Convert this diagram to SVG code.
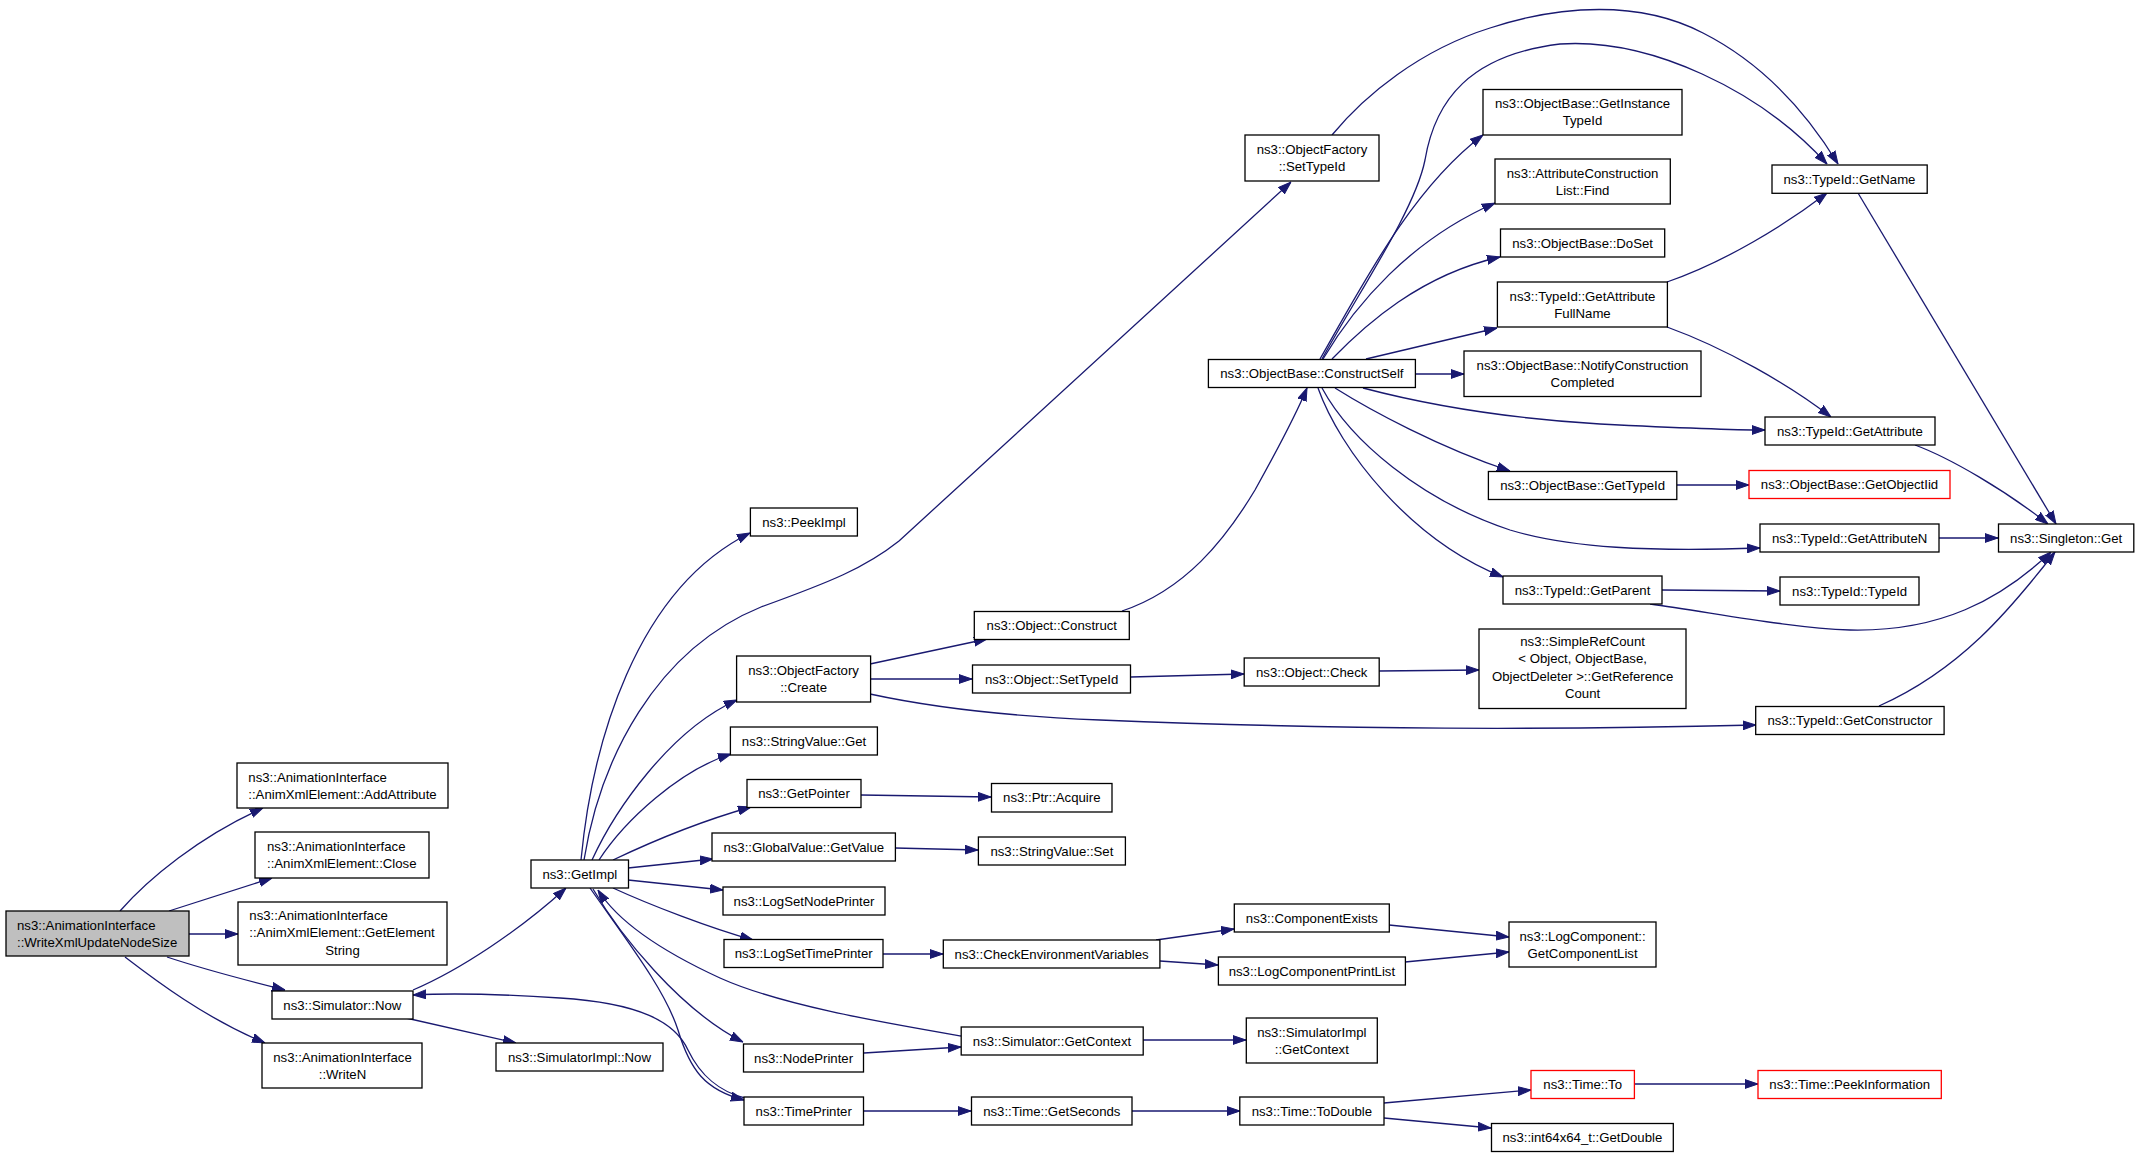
<svg xmlns="http://www.w3.org/2000/svg" width="2139" height="1158" viewBox="0 0 2139 1158">
<style>
.bg{fill:#fff}
.n{fill:#fff;stroke:#000;stroke-width:1.3}
.root{fill:#bfbfbf}
.red{stroke:#ff0000}
.t{font-family:"Liberation Sans",Arial,Helvetica,sans-serif;font-size:13.2px;fill:#000;text-anchor:middle}
.l{text-anchor:start}
.e{fill:none;stroke:#191970;stroke-width:1.3;marker-end:url(#ah)}
</style>
<defs>
<marker id="ah" markerUnits="userSpaceOnUse" markerWidth="13" markerHeight="10" viewBox="0 0 13 10" refX="13" refY="5" orient="auto">
<path d="M0,0.6 L13,5 L0,9.4 Z" fill="#191970" stroke="#191970" stroke-width="1"/>
</marker>
</defs>
<rect class="bg" x="0" y="0" width="2139" height="1158"/>
<g id="edges">
<path class="e" d="M120,911 C148,879 200,836 263,808"/>
<path class="e" d="M169,911 L272,878"/>
<path class="e" d="M189,934 L238,934"/>
<path class="e" d="M167,957 C200,968 245,980 285,990"/>
<path class="e" d="M125,957 C155,980 205,1018 265,1043"/>
<path class="e" d="M406,1018 L516,1043"/>
<path class="e" d="M413,990 C460,970 520,930 566,888"/>
<path class="e" d="M745,1098 C720,1092 700,1075 688,1050 C675,1022 640,1003 560,998 C500,994 450,993 413,995"/>
<path class="e" d="M581,860 C592,745 635,590 750,533"/>
<path class="e" d="M584,860 C600,760 655,650 761,607 C830,582 865,568 899,541 L1291,182"/>
<path class="e" d="M592,860 C615,810 670,730 737,700"/>
<path class="e" d="M599,860 C625,820 680,770 731,754"/>
<path class="e" d="M613,860 C655,840 705,820 751,807"/>
<path class="e" d="M628,868 L713,859"/>
<path class="e" d="M628,880 L723,890"/>
<path class="e" d="M613,888 C650,905 710,928 753,940"/>
<path class="e" d="M593,889 C620,935 680,1010 743,1042"/>
<path class="e" d="M961,1036 C880,1022 780,1005 720,978 C670,955 620,925 598,890"/>
<path class="e" d="M590,888 C630,945 665,990 678,1030 C690,1070 705,1090 744,1100"/>
<path class="e" d="M870,664 L987,639"/>
<path class="e" d="M870,679 L972,679"/>
<path class="e" d="M870,694 C930,707 1000,716 1100,720 C1350,730 1550,730 1756,725"/>
<path class="e" d="M1122,611 C1185,590 1225,540 1255,490 C1280,445 1298,410 1307,388"/>
<path class="e" d="M1131,677 L1244,674"/>
<path class="e" d="M1379,671 L1479,670"/>
<path class="e" d="M861,795 L991,797"/>
<path class="e" d="M895,848 L978,850"/>
<path class="e" d="M883,954 L943,954"/>
<path class="e" d="M864,1053 L961,1047"/>
<path class="e" d="M863,1111 L971,1111"/>
<path class="e" d="M1156,940 L1234,929"/>
<path class="e" d="M1160,961 L1218,965"/>
<path class="e" d="M1389,925 L1509,937"/>
<path class="e" d="M1405,962 L1509,952"/>
<path class="e" d="M1143,1040 L1246,1040"/>
<path class="e" d="M1132,1111 L1240,1111"/>
<path class="e" d="M1384,1103 L1531,1090"/>
<path class="e" d="M1384,1118 L1491,1128"/>
<path class="e" d="M1634,1084 L1758,1084"/>
<path class="e" d="M1332,135 C1365,95 1420,50 1490,28 C1560,5 1640,0 1703,33 C1760,62 1805,110 1838,164"/>
<path class="e" d="M1322,359 C1360,290 1415,210 1425,160 C1435,100 1470,55 1560,44 C1650,38 1760,90 1827,164"/>
<path class="e" d="M1320,359 C1360,290 1410,190 1483,135"/>
<path class="e" d="M1323,359 C1355,305 1410,240 1495,203"/>
<path class="e" d="M1332,359 C1365,325 1420,275 1500,257"/>
<path class="e" d="M1366,359 L1497,328"/>
<path class="e" d="M1415,374 L1464,374"/>
<path class="e" d="M1363,388 C1420,403 1500,418 1600,424 C1680,428 1720,430 1765,430"/>
<path class="e" d="M1335,388 C1370,410 1440,448 1510,471"/>
<path class="e" d="M1322,388 C1350,440 1420,500 1510,530 C1570,548 1650,552 1760,548"/>
<path class="e" d="M1318,388 C1340,450 1410,540 1503,577"/>
<path class="e" d="M1667,282 C1725,262 1785,225 1827,193"/>
<path class="e" d="M1667,327 C1725,348 1790,385 1831,417"/>
<path class="e" d="M1858,193 L2056,524"/>
<path class="e" d="M1915,445 C1950,458 2005,490 2048,524"/>
<path class="e" d="M1939,538 L1998,538"/>
<path class="e" d="M1662,590 L1780,591"/>
<path class="e" d="M1650,604 C1710,612 1790,628 1850,630 C1940,632 2000,600 2051,552"/>
<path class="e" d="M1879,706 C1960,670 2010,610 2055,552"/>
<path class="e" d="M1677,485 L1749,485"/>
</g>
<g id="n_root"><rect class="n root" x="6" y="911" width="183" height="45"/><text class="t l" x="17" y="929.5">ns3::AnimationInterface</text><text class="t l" x="17" y="946.5">::WriteXmlUpdateNodeSize</text></g>
<g id="n_addattribute"><rect class="n" x="237" y="763" width="211" height="45"/><text class="t l" x="248.3" y="781.5">ns3::AnimationInterface</text><text class="t l" x="248.3" y="798.5">::AnimXmlElement::AddAttribute</text></g>
<g id="n_close"><rect class="n" x="255" y="832" width="174" height="46"/><text class="t l" x="267" y="851">ns3::AnimationInterface</text><text class="t l" x="267" y="868">::AnimXmlElement::Close</text></g>
<g id="n_getelementstring"><rect class="n" x="238" y="902" width="209" height="63"/><text class="t l" x="249.3" y="919.5">ns3::AnimationInterface</text><text class="t l" x="249.3" y="936.5">::AnimXmlElement::GetElement</text><text class="t" x="342.5" y="954.5">String</text></g>
<g id="n_simnow"><rect class="n" x="272" y="991" width="141" height="28"/><text class="t" x="342.3" y="1009.5">ns3::Simulator::Now</text></g>
<g id="n_writen"><rect class="n" x="262" y="1043" width="160" height="45"/><text class="t" x="342.5" y="1061.5">ns3::AnimationInterface</text><text class="t" x="342.5" y="1078.5">::WriteN</text></g>
<g id="n_simimplnow"><rect class="n" x="496" y="1043" width="167" height="28"/><text class="t" x="579.5" y="1061.5">ns3::SimulatorImpl::Now</text></g>
<g id="n_getimpl"><rect class="n" x="531" y="860" width="97.5" height="28"/><text class="t" x="579.8" y="878.5">ns3::GetImpl</text></g>
<g id="n_peekimpl"><rect class="n" x="750.4" y="508" width="107" height="28"/><text class="t" x="804" y="526.5">ns3::PeekImpl</text></g>
<g id="n_ofcreate"><rect class="n" x="736.6" y="656" width="134" height="46"/><text class="t" x="803.6" y="675">ns3::ObjectFactory</text><text class="t" x="803.6" y="692">::Create</text></g>
<g id="n_strget"><rect class="n" x="730.4" y="727" width="147" height="28"/><text class="t" x="804" y="745.5">ns3::StringValue::Get</text></g>
<g id="n_getpointer"><rect class="n" x="747" y="779.5" width="114" height="28"/><text class="t" x="804" y="798">ns3::GetPointer</text></g>
<g id="n_globalvalue"><rect class="n" x="712" y="833" width="183.4" height="28"/><text class="t" x="803.8" y="851.5">ns3::GlobalValue::GetValue</text></g>
<g id="n_lognodeprinter"><rect class="n" x="723" y="887" width="162" height="28"/><text class="t" x="804" y="905.5">ns3::LogSetNodePrinter</text></g>
<g id="n_logtimeprinter"><rect class="n" x="724" y="939.5" width="159" height="28"/><text class="t" x="803.7" y="958">ns3::LogSetTimePrinter</text></g>
<g id="n_nodeprinter"><rect class="n" x="743.5" y="1044" width="120" height="28"/><text class="t" x="803.6" y="1062.5">ns3::NodePrinter</text></g>
<g id="n_timeprinter"><rect class="n" x="744" y="1097" width="119.5" height="28"/><text class="t" x="803.7" y="1115.5">ns3::TimePrinter</text></g>
<g id="n_ofsettypeid"><rect class="n" x="1245" y="135" width="134" height="46"/><text class="t" x="1312" y="154">ns3::ObjectFactory</text><text class="t" x="1312" y="171">::SetTypeId</text></g>
<g id="n_construct"><rect class="n" x="974.3" y="611.5" width="155" height="28"/><text class="t" x="1051.8" y="630">ns3::Object::Construct</text></g>
<g id="n_objsettypeid"><rect class="n" x="972.5" y="665" width="158" height="28"/><text class="t" x="1051.6" y="683.5">ns3::Object::SetTypeId</text></g>
<g id="n_acquire"><rect class="n" x="991.5" y="783.5" width="120.5" height="28.5"/><text class="t" x="1051.8" y="802">ns3::Ptr::Acquire</text></g>
<g id="n_strset"><rect class="n" x="978.4" y="837" width="147" height="28"/><text class="t" x="1051.9" y="855.5">ns3::StringValue::Set</text></g>
<g id="n_checkenv"><rect class="n" x="943.3" y="940" width="216.6" height="28"/><text class="t" x="1051.6" y="958.5">ns3::CheckEnvironmentVariables</text></g>
<g id="n_getcontext"><rect class="n" x="961.2" y="1027" width="182" height="28"/><text class="t" x="1052" y="1045.5">ns3::Simulator::GetContext</text></g>
<g id="n_getseconds"><rect class="n" x="971.5" y="1097" width="160.5" height="28"/><text class="t" x="1051.8" y="1115.5">ns3::Time::GetSeconds</text></g>
<g id="n_constructself"><rect class="n" x="1208.4" y="359.5" width="207" height="28"/><text class="t" x="1311.9" y="378">ns3::ObjectBase::ConstructSelf</text></g>
<g id="n_check"><rect class="n" x="1244.2" y="658" width="135" height="28"/><text class="t" x="1311.7" y="676.5">ns3::Object::Check</text></g>
<g id="n_compexists"><rect class="n" x="1234.3" y="904" width="155" height="28"/><text class="t" x="1311.8" y="922.5">ns3::ComponentExists</text></g>
<g id="n_printlist"><rect class="n" x="1218.4" y="957" width="187" height="28"/><text class="t" x="1311.9" y="975.5">ns3::LogComponentPrintList</text></g>
<g id="n_simimplctx"><rect class="n" x="1246.3" y="1018" width="131" height="45"/><text class="t" x="1311.8" y="1036.5">ns3::SimulatorImpl</text><text class="t" x="1311.8" y="1053.5">::GetContext</text></g>
<g id="n_todouble"><rect class="n" x="1239.8" y="1097" width="144.2" height="28"/><text class="t" x="1311.9" y="1115.5">ns3::Time::ToDouble</text></g>
<g id="n_getinstance"><rect class="n" x="1483" y="89.5" width="199" height="45.5"/><text class="t" x="1582.5" y="108.3">ns3::ObjectBase::GetInstance</text><text class="t" x="1582.5" y="125.3">TypeId</text></g>
<g id="n_find"><rect class="n" x="1495" y="159" width="175.3" height="45"/><text class="t" x="1582.6" y="177.5">ns3::AttributeConstruction</text><text class="t" x="1582.6" y="194.5">List::Find</text></g>
<g id="n_doset"><rect class="n" x="1500.5" y="229" width="164.2" height="28"/><text class="t" x="1582.6" y="247.5">ns3::ObjectBase::DoSet</text></g>
<g id="n_fullname"><rect class="n" x="1497.4" y="282" width="170" height="45"/><text class="t" x="1582.5" y="300.5">ns3::TypeId::GetAttribute</text><text class="t" x="1582.5" y="317.5">FullName</text></g>
<g id="n_notify"><rect class="n" x="1464" y="351" width="237" height="45.5"/><text class="t" x="1582.5" y="369.8">ns3::ObjectBase::NotifyConstruction</text><text class="t" x="1582.5" y="386.8">Completed</text></g>
<g id="n_obgettypeid"><rect class="n" x="1488.4" y="471.5" width="188.4" height="28"/><text class="t" x="1582.6" y="490">ns3::ObjectBase::GetTypeId</text></g>
<g id="n_getparent"><rect class="n" x="1503" y="576" width="159" height="28"/><text class="t" x="1582.5" y="594.5">ns3::TypeId::GetParent</text></g>
<g id="n_simplerefcount"><rect class="n" x="1479" y="629" width="207" height="79.5"/><text class="t" x="1582.6" y="645.8">ns3::SimpleRefCount</text><text class="t" x="1582.6" y="663.3">&lt; Object, ObjectBase,</text><text class="t" x="1582.6" y="680.8">ObjectDeleter &gt;::GetReference</text><text class="t" x="1582.6" y="698.3">Count</text></g>
<g id="n_getcomplist"><rect class="n" x="1509" y="922" width="147" height="45"/><text class="t" x="1582.6" y="940.5">ns3::LogComponent::</text><text class="t" x="1582.6" y="957.5">GetComponentList</text></g>
<g id="n_timeto"><rect class="n red" x="1531" y="1070.5" width="103.4" height="28"/><text class="t" x="1582.7" y="1089">ns3::Time::To</text></g>
<g id="n_getdouble"><rect class="n" x="1491.5" y="1123.5" width="181.8" height="28"/><text class="t" x="1582.4" y="1142">ns3::int64x64_t::GetDouble</text></g>
<g id="n_getname"><rect class="n" x="1772" y="165" width="155.2" height="28.3"/><text class="t" x="1849.5" y="183.5">ns3::TypeId::GetName</text></g>
<g id="n_getattribute"><rect class="n" x="1765" y="417" width="170" height="28"/><text class="t" x="1849.9" y="435.5">ns3::TypeId::GetAttribute</text></g>
<g id="n_getobjectiid"><rect class="n red" x="1749" y="470.5" width="201" height="28"/><text class="t" x="1849.5" y="489">ns3::ObjectBase::GetObjectIid</text></g>
<g id="n_getattributen"><rect class="n" x="1760" y="524" width="179" height="28"/><text class="t" x="1849.6" y="542.5">ns3::TypeId::GetAttributeN</text></g>
<g id="n_typeid"><rect class="n" x="1780" y="577" width="139" height="28"/><text class="t" x="1849.6" y="595.5">ns3::TypeId::TypeId</text></g>
<g id="n_getconstructor"><rect class="n" x="1755.7" y="706.5" width="188.4" height="28"/><text class="t" x="1849.9" y="725">ns3::TypeId::GetConstructor</text></g>
<g id="n_peekinfo"><rect class="n red" x="1758" y="1070.5" width="183.3" height="28"/><text class="t" x="1849.7" y="1089">ns3::Time::PeekInformation</text></g>
<g id="n_singleton"><rect class="n" x="1998.5" y="524" width="135.3" height="28"/><text class="t" x="2066.2" y="542.5">ns3::Singleton::Get</text></g>
</svg>
